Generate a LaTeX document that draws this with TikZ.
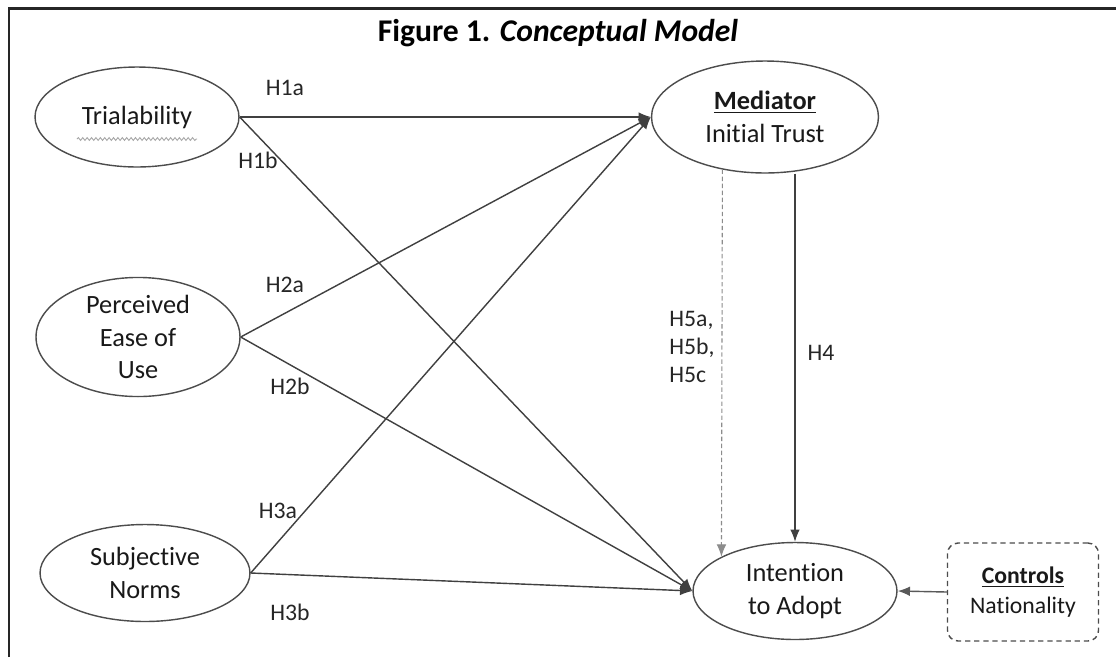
\documentclass[tikz,border=0pt]{standalone}
\usepackage{fontspec}
\setmainfont{Carlito}[Ligatures=NoCommon]
\usepackage{tikz}
\usetikzlibrary{positioning,arrows.meta,calc,shapes.geometric,decorations.pathmorphing}

\begin{document}
\begin{tikzpicture}[>={Latex[length=7pt,width=5.5pt]},
  x=0.02cm,y=-0.02cm,
  cst/.style={draw=black!70,line width=0.8pt,ellipse,inner sep=0pt,align=center,
    text=black!90,font=\fontsize{15}{18.7}\selectfont},
  hyp/.style={->,draw=black!75,line width=0.8pt},
  lbl/.style={font=\fontsize{13.5}{15.7}\selectfont,text=black!85,align=left}]
\useasboundingbox (0,0) rectangle (1116,657);
\fill[white] (0,0) rectangle (1116,657);
% frame and title
\draw[black!85,line width=1.7pt] (9,657) -- (9,8) -- (1116,8);
\node[font=\fontsize{18}{21}\selectfont\bfseries] (title) at (558,33) {Figure 1. \textit{Conceptual Model}};
% constructs
\node[cst,minimum width=4.08cm,minimum height=2cm] (tri) at (137,117) {Trialability};
\node[cst,minimum width=4.08cm,minimum height=2.04cm] (peou) at (138,337) {Perceived\\Ease of\\Use};
\node[cst,minimum width=4.2cm,minimum height=1.94cm] (sn) at (145,573) {Subjective\\Norms};
\node[cst,minimum width=4.54cm,minimum height=2.24cm] (trust) at (765,117) {\underline{\textbf{Mediator}}\\Initial Trust};
\node[cst,minimum width=4.08cm,minimum height=1.94cm] (ita) at (795,591) {Intention\\to Adopt};
\node[draw=black!70,line width=0.8pt,dash pattern=on 3pt off 2.2pt,rounded corners=6pt,
  minimum width=3.02cm,minimum height=1.96cm,align=center,text=black!90,
  font=\fontsize{13.5}{17}\selectfont] (ctrl) at (1023,592) {\underline{\textbf{Controls}}\\Nationality};
\draw[black!35,line width=0.5pt,decorate,decoration={snake,amplitude=0.8pt,segment length=2.5pt}]
  ($(tri.center)+(-60,22)$) -- ($(tri.center)+(60,22)$);
% paths
\foreach \src in {tri,peou,sn}{
  \draw[hyp] (\src.east) -- (trust.west);
  \draw[hyp] (\src.east) -- (ita.west);}
\draw[hyp] (trust.south -| ita.north) -- (ita.north);
\draw[->,black!45,line width=0.6pt,dash pattern=on 2.5pt off 1.5pt] (trust.-129) -- (ita.155);
\draw[->,black!65,line width=0.8pt] (ctrl.west) -- (ita.east);
% hypothesis labels
\node[lbl] (h1a) at (285,88) {H1a};
\node[lbl] (h1b) at (258,160) {H1b};
\node[lbl] (h2a) at (285,285) {H2a};
\node[lbl] (h2b) at (290,386) {H2b};
\node[lbl] (h3a) at (278,511) {H3a};
\node[lbl] (h3b) at (290,612) {H3b};
\node[lbl] (h4) at (821,353) {H4};
\node[lbl] (h5) at (692,347) {H5a,\\H5b,\\H5c};
\end{tikzpicture}
\end{document}
